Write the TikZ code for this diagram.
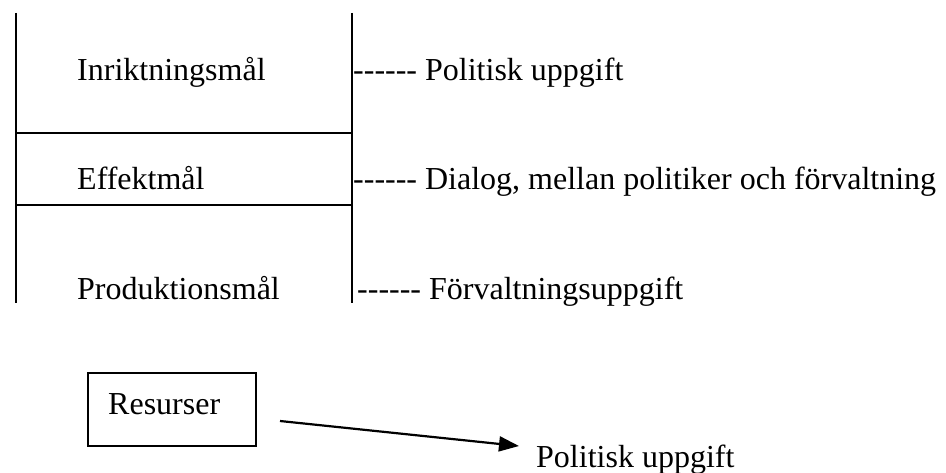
\documentclass[tikz,border=0pt]{standalone}
\usepackage{fontspec}
\setmainfont{Liberation Serif}[Ligatures=TeXOff]
\usetikzlibrary{arrows.meta}
\begin{document}
\begin{tikzpicture}[x=1pt,y=-1pt,
  lbl/.style={anchor=base west,inner sep=0pt,font=\fontsize{32}{38}\selectfont},
  rule/.style={line width=2pt},
  boxstyle/.style={draw,line width=1.6pt,inner sep=0pt,minimum width=168pt,minimum height=73pt},
  arr/.style={line width=2.2pt,-{Triangle[length=20pt,width=15pt]}}]
\useasboundingbox (0,0) rectangle (946,473);
% frame lines
\draw[rule] (16,13) -- (16,303);
\draw[rule] (352,13) -- (352,303);
\draw[rule] (16,133) -- (352,133);
\draw[rule] (16,205) -- (352,205);
% left labels
\node[lbl] (inr) at (77,81) {Inriktningsmål};
\node[lbl] (eff) at (77,190) {Effektmål};
\node[lbl] (prod) at (77,300) {Produktionsmål};
% right labels
\node[lbl] (pol) at (353,81) {------ Politisk uppgift};
\node[lbl] (dia) at (353,190) {------ Dialog, mellan politiker och förvaltning};
\node[lbl] (forv) at (357,300) {------ Förvaltningsuppgift};
% bottom
\node[boxstyle] (res) at (172,409.5) {};
\node[lbl] (restxt) at (108,414) {Resurser};
\coordinate (arrS) at (280,421);
\coordinate (arrE) at (519,446);
\draw[arr] (arrS) -- (arrE);
\node[lbl] (pol2) at (536,467) {Politisk uppgift};
\end{tikzpicture}
\end{document}
